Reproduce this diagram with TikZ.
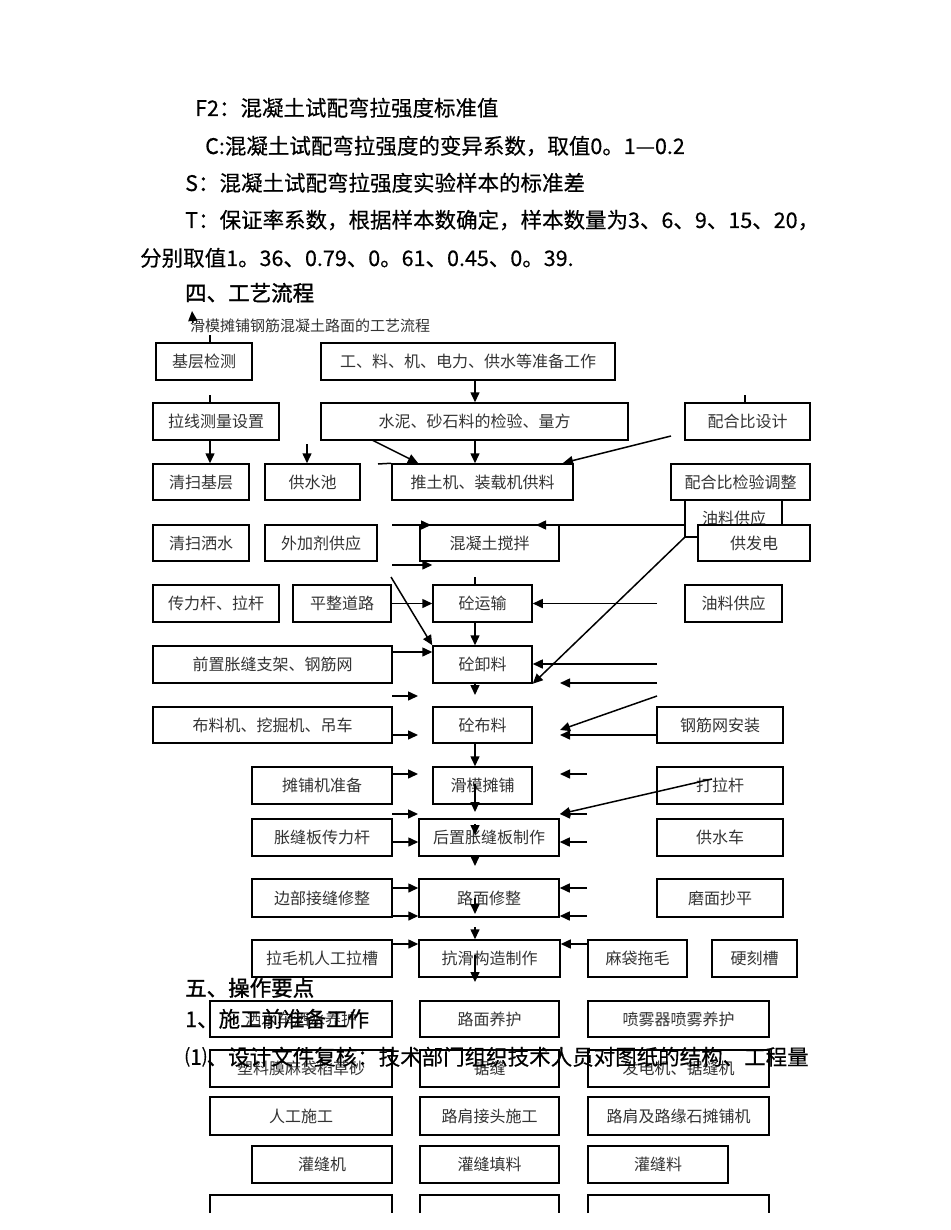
\documentclass[tikz,border=0pt]{standalone}
\usepackage{fontspec}
\setmainfont{Noto Sans CJK SC}
\newfontfamily\cjkr[FakeBold=0.4]{Noto Sans CJK SC}
\newfontfamily\cjkb[FakeBold=1.4]{Noto Sans CJK SC}
\usetikzlibrary{arrows.meta}
\newcommand{\flowbox}[6]{\node[bx, minimum width={(#4-#3)*1pt}, minimum height={(#6-#5)*1pt}] (#1) at ({(#3+#4)/2},{(#5+#6)/2}) {#2};}
\begin{document}
\begin{tikzpicture}[x=1pt,y=-1pt,
  bx/.style={draw, line width=1.5pt, fill=white, inner sep=0pt, font=\fontsize{16}{18}\selectfont, text=black!80},
  arr/.style={line width=1.5pt, -{Triangle[length=10pt,width=9pt]}},
  ln/.style={line width=1.5pt},
  body/.style={anchor=base west, inner sep=0pt, font=\fontsize{21.5}{26}\selectfont\cjkr},
  head/.style={anchor=base west, inner sep=0pt, font=\fontsize{21.5}{26}\selectfont\cjkb},
  captxt/.style={anchor=base west, inner sep=0pt, font=\fontsize{15}{18}\selectfont, text=black!80},
]
\useasboundingbox (0,0) rectangle (950,1230);
\fill[white] (0,0) rectangle (950,1230);

% ---------- body text ----------
\node[body] (l1) at (195,116) {F2：混凝土试配弯拉强度标准值};
\node[body] (l2) at (205,154) {C:混凝土试配弯拉强度的变异系数，取值0。1—0.2};
\node[body] (l3) at (185,191) {S：混凝土试配弯拉强度实验样本的标准差};
\node[body] (l4) at (185,228) {T：保证率系数，根据样本数确定，样本数量为3、6、9、15、20，};
\node[body] (l5) at (140,266) {分别取值1。36、0.79、0。61、0.45、0。39.};
\node[head] (l6) at (185,301) {四、工艺流程};
\node[captxt] (l7) at (190,331) {滑模摊铺钢筋混凝土路面的工艺流程};

% ---------- boxes ----------
\flowbox{b1}{基层检测}{156}{252}{343}{380}
\flowbox{b2}{工、料、机、电力、供水等准备工作}{321}{615}{343}{380}
\flowbox{b3}{拉线测量设置}{153}{279}{403}{440}
\flowbox{b4}{水泥、砂石料的检验、量方}{321}{628}{403}{440}
\flowbox{b5}{配合比设计}{685}{810}{403}{440}
\flowbox{b6}{清扫基层}{153}{249}{464}{500}
\flowbox{b7}{供水池}{265}{360}{464}{500}
\flowbox{b8}{推土机、装载机供料}{392}{573}{464}{500}
\flowbox{b9}{配合比检验调整}{671}{810}{464}{500}
\flowbox{b10}{清扫洒水}{153}{249}{525}{561}
\flowbox{b11}{外加剂供应}{265}{377}{525}{561}
\flowbox{b12}{混凝土搅拌}{420}{559}{525}{561}
\node[bx, draw=none, fill=none] (b13) at (734,518) {油料供应};
\coordinate (o1) at (685,500);
\coordinate (o2) at (685,537);
\coordinate (o3) at (782,500);
\draw[ln] (o1) -- (o2) -- (698,537);
\draw[ln] (o3) -- (782,525);
\flowbox{b14}{供发电}{698}{810}{525}{561}
\flowbox{b15}{传力杆、拉杆}{153}{279}{585}{622}
\flowbox{b16}{平整道路}{293}{391}{585}{622}
\flowbox{b17}{砼运输}{433}{532}{585}{622}
\flowbox{b18}{油料供应}{685}{782}{585}{622}
\flowbox{b19}{前置胀缝支架、钢筋网}{153}{392}{646}{683}
\flowbox{b20}{砼卸料}{433}{532}{646}{683}
\flowbox{b21}{布料机、挖掘机、吊车}{153}{392}{707}{743}
\flowbox{b22}{砼布料}{433}{532}{707}{743}
\flowbox{b23}{钢筋网安装}{657}{783}{707}{743}
\flowbox{b24}{摊铺机准备}{252}{392}{767}{804}
\flowbox{b25}{滑模摊铺}{433}{532}{767}{804}
\flowbox{b26}{打拉杆}{657}{783}{767}{804}
\flowbox{b27}{胀缝板传力杆}{252}{392}{819}{856}
\flowbox{b28}{后置胀缝板制作}{419}{559}{819}{856}
\flowbox{b29}{供水车}{657}{783}{819}{856}
\flowbox{b30}{边部接缝修整}{252}{392}{879}{917}
\flowbox{b31}{路面修整}{419}{559}{879}{917}
\flowbox{b32}{磨面抄平}{657}{783}{879}{917}
\flowbox{b33}{拉毛机人工拉槽}{252}{392}{940}{977}
\flowbox{b34}{抗滑构造制作}{419}{560}{940}{977}
\flowbox{b35}{麻袋拖毛}{588}{687}{940}{977}
\flowbox{b36}{硬刻槽}{712}{797}{940}{977}
\flowbox{b37}{洒水车洒水养护}{210}{392}{1001}{1037}
\flowbox{b38}{路面养护}{420}{559}{1001}{1037}
\flowbox{b39}{喷雾器喷雾养护}{588}{769}{1001}{1037}
\flowbox{b40}{塑料膜麻袋稻草砂}{210}{392}{1050}{1087}
\flowbox{b41}{锯缝}{420}{559}{1050}{1087}
\flowbox{b42}{发电机、锯缝机}{588}{769}{1050}{1087}
\flowbox{b43}{人工施工}{210}{392}{1097}{1135}
\flowbox{b44}{路肩接头施工}{420}{559}{1097}{1135}
\flowbox{b45}{路肩及路缘石摊铺机}{588}{769}{1097}{1135}
\flowbox{b46}{灌缝机}{252}{392}{1146}{1183}
\flowbox{b47}{灌缝填料}{420}{559}{1146}{1183}
\flowbox{b48}{灌缝料}{588}{728}{1146}{1183}
\draw[ln] (210,1213) -- (210,1195) -- (392,1195) -- (392,1213);
\draw[ln] (420,1213) -- (420,1195) -- (559,1195) -- (559,1213);
\draw[ln] (588,1213) -- (588,1195) -- (769,1195) -- (769,1213);

% ---------- connectors ----------
\coordinate (X475) at (475,0);
\coordinate (X210) at (210,0);
\coordinate (c0a) at (193,323);
\coordinate (c0b) at (192,311);
\draw[arr] (c0a) -- (c0b);
\coordinate (t1) at (210,335);
\draw[ln] (t1) -- (t1 |- b1.north);
\coordinate (t2) at (210,395);
\draw[ln] (t2) -- (t2 |- b3.north);
\coordinate (t3) at (745,395);
\draw[ln] (t3) -- (t3 |- b5.north);
\draw[arr] (X475 |- b2.south) -- (X475 |- b4.north);
\draw[arr] (X210 |- b3.south) -- (X210 |- b6.north);
\coordinate (p7) at (307,444);
\draw[arr] (p7) -- (p7 |- b7.north);
\coordinate (p8a) at (372,440);
\coordinate (p8b) at (418,463);
\draw[arr] (p8a) -- (p8b);
\draw[arr] (X475 |- b4.south) -- (X475 |- b8.north);
\coordinate (p10a) at (671,436);
\coordinate (p10b) at (563,463);
\draw[arr] (p10a) -- (p10b);
\coordinate (p11) at (378,464);
\draw[ln] (p11) -- (b8.north west);
\coordinate (p12a) at (392,525);
\draw[ln] (p12a) -- (o1 |- p12a);
\coordinate (p12c) at (402,525);
\coordinate (p12d) at (431,525);
\draw[arr] (p12c) -- (p12d);
\coordinate (p12e) at (563,525);
\coordinate (p12f) at (536,525);
\draw[arr] (p12e) -- (p12f);
\coordinate (p14) at (392,565);
\draw[arr] (p14) -- (p14 -| b17.west);
\coordinate (p15) at (391,577);
\draw[arr] (p15) -- (b20.north west);
\coordinate (p16) at (475,577);
\draw[ln] (p16) -- (p16 |- b17.north);
\draw[arr] (b16.east) -- (b17.west);
\coordinate (p18) at (657,603.5);
\draw[arr] (p18) -- (b17.east);
\draw[arr] (o2) -- (b20.south east);
\draw[arr] (X475 |- b17.south) -- (X475 |- b20.north);
\coordinate (p21) at (0,652);
\draw[arr] (b19.east |- p21) -- (b20.west |- p21);
\coordinate (p22) at (657,664);
\draw[arr] (p22) -- (p22 -| b20.east);
\coordinate (p23a) at (657,683);
\coordinate (p23b) at (560,683);
\draw[arr] (p23a) -- (p23b);
\coordinate (p24) at (475,695);
\draw[arr] (X475 |- b20.south) -- (p24);
\coordinate (p25a) at (392,696);
\coordinate (p25b) at (418,696);
\draw[arr] (p25a) -- (p25b);
\coordinate (p26a) at (657,696);
\coordinate (p26b) at (560,730);
\draw[arr] (p26a) -- (p26b);
\coordinate (p27) at (418,735);
\draw[arr] (b21.east |- p27) -- (p27);
\coordinate (p28) at (560,735);
\draw[arr] (b23.west |- p28) -- (p28);
\draw[arr] (X475 |- b22.south) -- (X475 |- b25.north);
\coordinate (p30) at (418,774);
\draw[arr] (b24.east |- p30) -- (p30);
\coordinate (p31a) at (587,774);
\coordinate (p31b) at (560,774);
\draw[arr] (p31a) -- (p31b);
\coordinate (p32a) at (712,779);
\coordinate (p32b) at (560,814);
\draw[arr] (p32a) -- (p32b);
\coordinate (p33a) at (587,814);
\draw[arr] (p33a) -- (p32b);
\coordinate (p34a) at (392,814);
\coordinate (p34b) at (418,814);
\draw[arr] (p34a) -- (p34b);
\coordinate (p35a) at (475,784);
\coordinate (p35b) at (475,812);
\draw[arr] (p35a) -- (p35b);
\coordinate (p36a) at (475,824);
\coordinate (p36b) at (475,835);
\draw[arr] (p36a) -- (p36b);
\coordinate (p37) at (0,842);
\draw[arr] (b27.east |- p37) -- (b28.west |- p37);
\coordinate (p38) at (587,842);
\draw[arr] (p38) -- (p38 -| b28.east);
\coordinate (p39) at (475,866);
\draw[arr] (X475 |- b28.south) -- (p39);
\coordinate (q1) at (0,888);
\coordinate (q2) at (0,916);
\draw[arr] (b30.east |- q1) -- (b31.west |- q1);
\draw[arr] (b30.east |- q2) -- (b31.west |- q2);
\coordinate (q3) at (587,888);
\coordinate (q4) at (587,916);
\draw[arr] (q3) -- (q3 -| b31.east);
\draw[arr] (q4) -- (q4 -| b31.east);
\coordinate (p42a) at (475,898);
\coordinate (p42b) at (475,914);
\draw[arr] (p42a) -- (p42b);
\coordinate (p43) at (475,927);
\draw[arr] (p43) -- (p43 |- b34.north);
\coordinate (q5) at (0,944);
\draw[arr] (b33.east |- q5) -- (b34.west |- q5);
\draw[arr] (b35.west |- q5) -- (b34.east |- q5);
\coordinate (p46a) at (475,955);
\coordinate (p46b) at (475,982);
\draw[arr] (p46a) -- (p46b);

% ---------- overlay text ----------
\node[head] (l8) at (185,996) {五、操作要点};
\node[body] (l9) at (185,1027) {1、施工前准备工作};
\node[body] (l10) at (185,1065) {⑴、设计文件复核：技术部门组织技术人员对图纸的结构、工程量};
\end{tikzpicture}
\end{document}
